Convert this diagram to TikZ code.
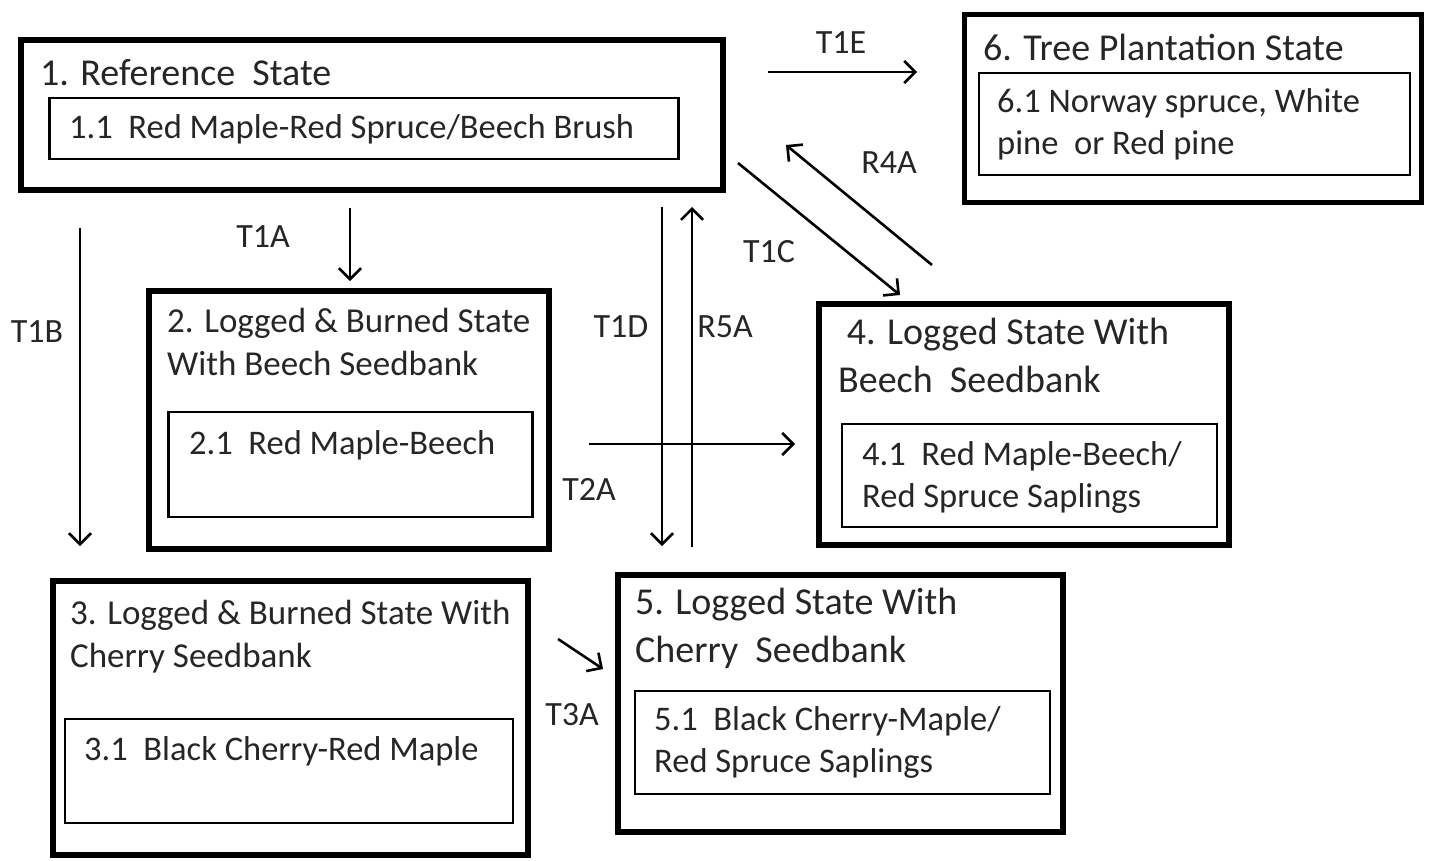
\documentclass[tikz,border=0pt]{standalone}
\usepackage{fontspec}
\setmainfont{Carlito}
\usetikzlibrary{arrows.meta,positioning}
\definecolor{ink}{HTML}{262626}

\begin{document}
\begin{tikzpicture}[x=1pt, y=-1pt]
    \tikzstyle{statebox} = [rectangle, draw, line width=5.5pt, inner sep=0pt]
    \tikzstyle{phasebox} = [rectangle, draw, line width=2.4pt, inner sep=0pt]
    \tikzstyle{bigtitle} = [anchor=base west, inner sep=0pt, text=ink, align=left, font=\fontsize{38}{48}\selectfont]
    \tikzstyle{smalltitle} = [anchor=base west, inner sep=0pt, text=ink, align=left, font=\fontsize{35}{43}\selectfont]
    \tikzstyle{phase} = [anchor=base west, inner sep=0pt, text=ink, align=left, font=\fontsize{34.5}{42}\selectfont]
    \tikzstyle{trans} = [anchor=base, inner sep=0pt, text=ink, font=\fontsize{34}{40}\selectfont]
    \tikzstyle{arrow} = [line width=2.6pt, -{Straight Barb[length=11pt,width=22pt]}]

    \useasboundingbox (0,0) rectangle (1430,860);

    % State boxes
    \node [statebox, minimum width=702, minimum height=150] (s1) at (372,115) {};
    \node [phasebox, minimum width=629, minimum height=61] (s11) at (364,128.5) {};
    \node [statebox, minimum width=457, minimum height=188] (s6) at (1193,108.5) {};
    \node [phasebox, minimum width=431, minimum height=102] (s61) at (1194.5,124) {};
    \node [statebox, minimum width=400, minimum height=258] (s2) at (349,420) {};
    \node [phasebox, minimum width=364, minimum height=105] (s21) at (350.5,464.5) {};
    \node [statebox, minimum width=410, minimum height=241] (s4) at (1024,424.5) {};
    \node [phasebox, minimum width=375, minimum height=103] (s41) at (1029.5,475.5) {};
    \node [statebox, minimum width=475, minimum height=274] (s3) at (290.5,718) {};
    \node [phasebox, minimum width=448, minimum height=104] (s31) at (289,771) {};
    \node [statebox, minimum width=445, minimum height=257] (s5) at (840.5,703.5) {};
    \node [phasebox, minimum width=415, minimum height=103] (s51) at (842.5,742.5) {};

    % Texts (multi-line ones are placed at the last baseline)
    \node [bigtitle] (t1) at (40,85) {1. Reference\ \ State};
    \node [phase] (p11) at (69,138) {1.1\ \ Red Maple-Red Spruce/Beech Brush};
    \node [bigtitle] (t6) at (983,60) {6. Tree Plantation State};
    \node [phase] (p61) at (997,154) {6.1 Norway spruce, White\\pine\ \ or Red pine};
    \node [smalltitle] (t2) at (167,375) {2. Logged \& Burned State\\With Beech Seedbank};
    \node [phase] (p21) at (189,454) {2.1\ \ Red Maple-Beech};
    \node [bigtitle] (t4) at (838,392) {\ 4. Logged State With\\Beech\ \ Seedbank};
    \node [phase] (p41) at (862,507) {4.1\ \ Red Maple-Beech/\\Red Spruce Saplings};
    \node [smalltitle] (t3) at (70,667) {3. Logged \& Burned State With\\Cherry Seedbank};
    \node [phase] (p31) at (84,760) {3.1\ \ Black Cherry-Red Maple};
    \node [bigtitle] (t5) at (635,662) {5. Logged State With\\Cherry\ \ Seedbank};
    \node [phase] (p51) at (654,772) {5.1\ \ Black Cherry-Maple/\\Red Spruce Saplings};

    % Transition ends
    \coordinate (e1a) at (768,72);   \coordinate (e1b) at (917,72);
    \coordinate (a1a) at (350,208);  \coordinate (a1b) at (350,281);
    \coordinate (b1a) at (80,228);   \coordinate (b1b) at (80,546);
    \coordinate (d1a) at (662,207);  \coordinate (d1b) at (662,546);
    \coordinate (r5a) at (692,547);  \coordinate (r5b) at (692,207);
    \coordinate (c1a) at (738,163);  \coordinate (c1b) at (900,295);
    \coordinate (r4a) at (932,265);  \coordinate (r4b) at (786,145);
    \coordinate (t2a) at (589,444);  \coordinate (t2b) at (795,444);
    \coordinate (t3a) at (558,639);  \coordinate (t3b) at (603,669);

    \draw [arrow] (e1a) -- (e1b);
    \draw [arrow] (a1a) -- (a1b);
    \draw [arrow] (b1a) -- (b1b);
    \draw [arrow] (d1a) -- (d1b);
    \draw [arrow] (r5a) -- (r5b);
    \draw [arrow] (c1a) -- (c1b);
    \draw [arrow] (r4a) -- (r4b);
    \draw [arrow] (t2a) -- (t2b);
    \draw [arrow] (t3a) -- (t3b);

    % Transition labels
    \node [trans] (l1e) at (841,53) {T1E};
    \node [trans] (l1a) at (263,247) {T1A};
    \node [trans] (l1b) at (37,342) {T1B};
    \node [trans] (l1d) at (621,337) {T1D};
    \node [trans] (l5a) at (725,337) {R5A};
    \node [trans] (l1c) at (769,262) {T1C};
    \node [trans] (l4a) at (889,173) {R4A};
    \node [trans] (l2a) at (589,500) {T2A};
    \node [trans] (l3a) at (572,725) {T3A};
\end{tikzpicture}
\end{document}
